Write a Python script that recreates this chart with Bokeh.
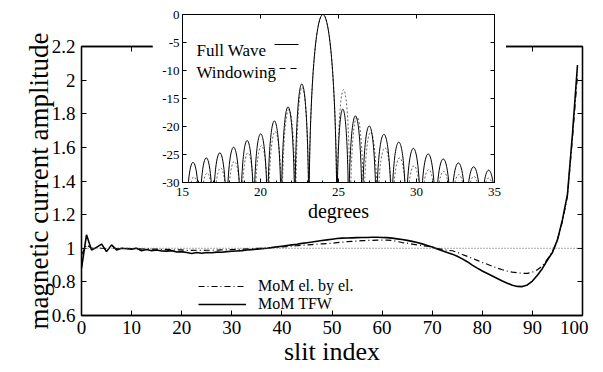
from bokeh.plotting import figure
from bokeh.models import (Range1d, FixedTicker, LinearAxis, Span, Legend, Label,
                          Arrow, CustomJSTickFormatter, ColumnDataSource)
from bokeh.layouts import column
from bokeh.embed import file_html
from bokeh.resources import INLINE

# ---------------- data: main chart ----------------
slit_index = list(range(100))

mom_tfw = [
    0.88, 1.08, 0.99, 1.005, 1.025, 0.98, 1.02, 0.99, 1.0, 0.997,
    0.995, 1.0, 0.985, 0.992, 0.985, 0.99, 0.984, 0.983, 0.986, 0.978,
    0.98, 0.975, 0.969, 0.975, 0.97, 0.975, 0.973, 0.977, 0.976, 0.98,
    0.982, 0.984, 0.986, 0.99, 0.992, 0.995, 0.998, 1.0, 1.004, 1.008,
    1.012, 1.016, 1.02, 1.024, 1.029, 1.033, 1.037, 1.042, 1.046, 1.05,
    1.054, 1.058, 1.06, 1.061, 1.062, 1.063, 1.064, 1.064, 1.065, 1.065,
    1.064, 1.063, 1.06, 1.056, 1.052, 1.047, 1.041, 1.034, 1.026, 1.017,
    1.008, 0.995, 0.985, 0.975, 0.965, 0.952, 0.937, 0.92, 0.9, 0.882,
    0.865, 0.85, 0.835, 0.82, 0.805, 0.792, 0.78, 0.773, 0.772, 0.782,
    0.805, 0.84, 0.88, 0.93, 0.975, 1.05, 1.17, 1.32, 1.68, 2.09,
]

mom_el_by_el = [
    0.96, 1.02, 1.0, 1.005, 1.0, 0.998, 1.003, 0.998, 1.0, 1.0,
    0.998, 1.0, 0.995, 0.998, 0.995, 0.995, 0.993, 0.993, 0.992, 0.99,
    0.99, 0.988, 0.987, 0.988, 0.987, 0.988, 0.988, 0.989, 0.99, 0.991,
    0.992, 0.993, 0.995, 0.996, 0.997, 0.999, 1.0, 1.002, 1.004, 1.006,
    1.008, 1.01, 1.013, 1.015, 1.018, 1.02, 1.022, 1.024, 1.026, 1.028,
    1.03, 1.033, 1.036, 1.039, 1.041, 1.043, 1.045, 1.046, 1.047, 1.048,
    1.048, 1.048, 1.046, 1.04, 1.034, 1.03, 1.025, 1.02, 1.015, 1.012,
    1.008, 1.0, 0.993, 0.988, 0.985, 0.975, 0.963, 0.952, 0.94, 0.928,
    0.916, 0.905, 0.893, 0.882, 0.872, 0.864, 0.858, 0.854, 0.851, 0.851,
    0.858, 0.872, 0.895, 0.935, 0.98, 1.05, 1.16, 1.31, 1.66, 2.03,
]

reference_level = 1.0

main_x_ticks = [0, 10, 20, 30, 40, 50, 60, 70, 80, 90, 100]
main_x_labels = ["0", "10", "20", "30", "40", "50", "60", "70", "80", "90", "100"]
main_y_ticks = [0.6, 0.8, 1.0, 1.2, 1.4, 1.6, 1.8, 2.0, 2.2]
main_y_labels = ["0.6", "0.8", "1", "1.2", "1.4", "1.6", "1.8", "2", "2.2"]

# ---------------- data: inset (radiation pattern lobes) ----------------
# null angles (deg) bounding each lobe, and each lobe's peak level (dB)
full_wave_nulls = [15.25, 16.1, 16.95, 17.83, 18.72, 19.57, 20.45, 21.33, 22.2, 23.1,
                   24.9, 25.65, 26.52, 27.42, 28.4, 29.33, 30.27, 31.23, 32.2, 33.17,
                   34.15, 35.1]
full_wave_peaks = [-26.4, -25.6, -24.7, -23.7, -22.5, -21.3, -19.0, -16.5, -12.4,
                   0.0,
                   -16.9, -18.1, -19.9, -21.4, -22.8, -23.9, -24.9, -25.8, -26.5, -27.2,
                   -27.8]
windowing_nulls = [15.32, 16.15, 17.0, 17.88, 18.77, 19.62, 20.5, 21.38, 22.25, 23.1,
                   24.9, 25.75, 26.62, 27.5, 28.45, 29.38, 30.3, 31.25, 32.22, 33.2,
                   34.15, 35.1]
windowing_peaks = [-29.0, -28.3, -27.4, -26.2, -24.7, -23.4, -20.9, -17.0, -13.0,
                   0.0,
                   -13.4, -18.3, -21.0, -23.8, -25.6, -27.0, -27.7, -28.0, -28.6, -28.9,
                   -29.2]
null_floor_db = -40.0

inset_x_ticks = [15, 20, 25, 30, 35]
inset_x_labels = ["15", "20", "25", "30", "35"]
inset_y_ticks = [0, -5, -10, -15, -20, -25, -30]
inset_y_labels = ["0", "-5", "-10", "-15", "-20", "-25", "-30"]

SERIF = "Liberation Serif"


def lookup_formatter(values, labels):
    return CustomJSTickFormatter(
        args=dict(tick_values=values, tick_labels=labels),
        code="""
        for (let i = 0; i < tick_values.length; i++) {
            if (Math.abs(tick_values[i] - tick) < 1e-9) { return tick_labels[i]; }
        }
        return '';
        """)


def blank():
    return CustomJSTickFormatter(code="return '';")


# ---------------- main figure ----------------
MAIN_W, MAIN_H = 588, 370
p = figure(width=MAIN_W, height=MAIN_H, x_range=Range1d(0, 100), y_range=Range1d(0.6, 2.2),
           output_backend="svg", toolbar_location=None,
           min_border_left=81, min_border_right=6, min_border_top=46, min_border_bottom=55)
p.frame_align = False
p.xgrid.visible = False
p.ygrid.visible = False
p.outline_line_color = "black"
p.outline_line_width = 1.3
p.background_fill_color = "white"
p.border_fill_color = "white"

p.xaxis.ticker = FixedTicker(ticks=main_x_ticks, minor_ticks=[])
p.xaxis.formatter = lookup_formatter(main_x_ticks, main_x_labels)
p.yaxis.ticker = FixedTicker(ticks=main_y_ticks, minor_ticks=[])
p.yaxis.formatter = lookup_formatter(main_y_ticks, main_y_labels)
for ax in (p.xaxis[0], p.yaxis[0]):
    ax.major_tick_in = 5
    ax.major_tick_out = 0
    ax.minor_tick_in = 0
    ax.minor_tick_out = 0
    ax.axis_line_color = "black"
    ax.axis_line_width = 1.3
    ax.major_label_text_font = SERIF
    ax.major_label_text_font_size = "19px"
    ax.major_label_text_color = "black"
    ax.axis_label_text_font = SERIF
    ax.axis_label_text_font_style = "normal"
    ax.axis_label_text_color = "black"
p.xaxis.axis_label = "slit index"
p.xaxis.axis_label_text_font_size = "26px"
p.xaxis.major_label_standoff = 5
p.xaxis.axis_label_standoff = 0
p.yaxis.axis_label = "magnetic current amplitude"
p.yaxis.axis_label_text_font_size = "27px"
p.yaxis.major_label_standoff = 6
p.yaxis.axis_label_standoff = -5

top_ax = LinearAxis(ticker=FixedTicker(ticks=main_x_ticks, minor_ticks=[]), formatter=blank(),
                    major_tick_in=5, major_tick_out=0, minor_tick_in=0, minor_tick_out=0,
                    axis_line_color="black", axis_line_width=1.3)
right_ax = LinearAxis(ticker=FixedTicker(ticks=main_y_ticks, minor_ticks=[]), formatter=blank(),
                      major_tick_in=5, major_tick_out=0, minor_tick_in=0, minor_tick_out=0,
                      axis_line_color="black", axis_line_width=1.3)
p.add_layout(top_ax, "above")
p.add_layout(right_ax, "right")

p.add_layout(Span(location=reference_level, dimension="width", line_color="#555555",
                  line_width=1, line_dash="1 2"))

main_src = ColumnDataSource(dict(x=slit_index, tfw=mom_tfw, ebe=mom_el_by_el))
r_ebe = p.line("x", "ebe", source=main_src, line_color="black", line_width=1.2,
               line_dash="6 3 1 3")
r_tfw = p.line("x", "tfw", source=main_src, line_color="black", line_width=1.6)

legend = Legend(items=[("MoM el. by el.", [r_ebe]), ("MoM TFW", [r_tfw])],
                location=(117, 2), orientation="vertical",
                label_text_font=SERIF, label_text_font_size="16px", label_text_color="black",
                glyph_width=48, glyph_height=18, label_height=18, label_standoff=12,
                spacing=0, padding=0, margin=0,
                border_line_color=None, background_fill_alpha=0)
p.add_layout(legend)

# ---------------- inset figure ----------------
INSET_W, INSET_H = 354, 224
q = figure(width=INSET_W, height=INSET_H, x_range=Range1d(15, 35), y_range=Range1d(-30, 0),
           output_backend="svg", toolbar_location=None,
           min_border_left=30, min_border_right=12, min_border_top=14, min_border_bottom=41)
q.frame_align = False
q.xgrid.visible = False
q.ygrid.visible = False
q.outline_line_color = "black"
q.outline_line_width = 1
q.background_fill_color = "white"
q.border_fill_color = "white"

q.xaxis.ticker = FixedTicker(ticks=inset_x_ticks, minor_ticks=list(range(15, 36)))
q.xaxis.formatter = lookup_formatter(inset_x_ticks, inset_x_labels)
q.yaxis.ticker = FixedTicker(ticks=inset_y_ticks, minor_ticks=[])
q.yaxis.formatter = lookup_formatter(inset_y_ticks, inset_y_labels)
for ax in (q.xaxis[0], q.yaxis[0]):
    ax.major_tick_in = 4
    ax.major_tick_out = 0
    ax.minor_tick_in = 2
    ax.minor_tick_out = 0
    ax.axis_line_color = "black"
    ax.major_label_text_font = SERIF
    ax.major_label_text_font_size = "13px"
    ax.major_label_text_color = "black"
    ax.axis_label_text_font = SERIF
    ax.axis_label_text_font_style = "normal"
    ax.axis_label_text_color = "black"
q.xaxis.axis_label = "degrees"
q.xaxis.axis_label_text_font_size = "20px"
q.xaxis.major_label_standoff = 5
q.xaxis.axis_label_standoff = 1
q.yaxis.major_label_standoff = 3

q_top = LinearAxis(ticker=FixedTicker(ticks=inset_x_ticks, minor_ticks=[]), formatter=blank(),
                   major_tick_in=4, major_tick_out=0, minor_tick_in=0, minor_tick_out=0)
q_right = LinearAxis(ticker=FixedTicker(ticks=inset_y_ticks, minor_ticks=[]), formatter=blank(),
                     major_tick_in=4, major_tick_out=0, minor_tick_in=0, minor_tick_out=0)
q.add_layout(q_top, "above")
q.add_layout(q_right, "right")


def lobe_source(nulls, peaks):
    # each lobe is drawn as a cubic Bezier arch between its two nulls,
    # with control points placed so that the arch top reaches the peak level
    x0 = nulls[:-1]
    x1 = nulls[1:]
    base = [null_floor_db] * len(peaks)
    ctrl = [(pk - 0.25 * null_floor_db) / 0.75 for pk in peaks]
    return ColumnDataSource(dict(x0=x0, x1=x1, y=base, cy=ctrl))


win_src = lobe_source(windowing_nulls, windowing_peaks)
fw_src = lobe_source(full_wave_nulls, full_wave_peaks)
q.bezier(x0="x0", y0="y", x1="x1", y1="y", cx0="x0", cy0="cy", cx1="x1", cy1="cy",
         source=win_src, line_color="#666666", line_width=1, line_dash="2 2")
q.bezier(x0="x0", y0="y", x1="x1", y1="y", cx0="x0", cy0="cy", cx1="x1", cy1="cy",
         source=fw_src, line_color="black", line_width=1)

q.add_layout(Label(x=14, y=132, x_units="screen", y_units="screen", text="Full Wave",
                   text_font=SERIF, text_font_size="17px", text_color="black",
                   text_baseline="alphabetic"))
q.add_layout(Label(x=14, y=110, x_units="screen", y_units="screen", text="Windowing",
                   text_font=SERIF, text_font_size="17px", text_color="black",
                   text_baseline="alphabetic"))
q.add_layout(Arrow(end=None, x_start=92, y_start=138, x_end=116, y_end=138,
                   start_units="screen", end_units="screen",
                   line_color="black", line_width=1))
q.add_layout(Arrow(end=None, x_start=86, y_start=114, x_end=116, y_end=114,
                   start_units="screen", end_units="screen",
                   line_color="black", line_width=1, line_dash="6 5"))

q.margin = (-MAIN_H, 0, 0, 152)

layout = column(p, q, spacing=0)
open("out.html", "w").write(file_html(layout, INLINE))
